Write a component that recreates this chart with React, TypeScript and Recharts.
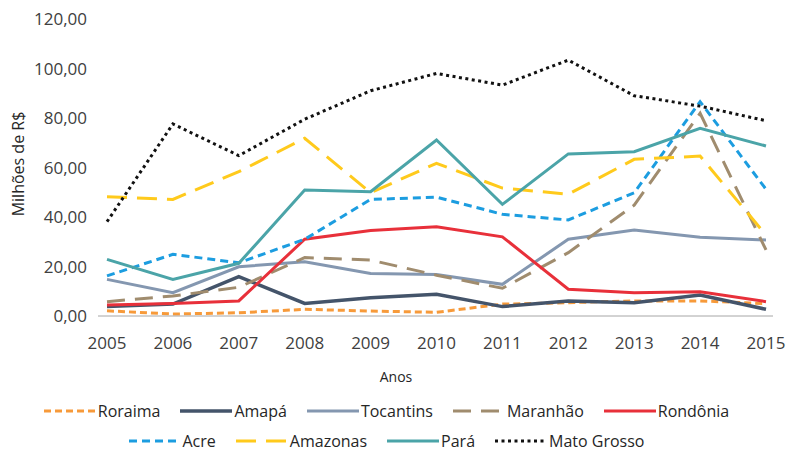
import React from 'react';
import { LineChart, Line, XAxis, YAxis, Legend } from 'recharts';

const years = [2005, 2006, 2007, 2008, 2009, 2010, 2011, 2012, 2013, 2014, 2015];

const roraima = [2.1, 0.8, 1.3, 2.7, 2.0, 1.5, 4.8, 5.4, 6.1, 6.1, 5.0];
const amapa = [3.8, 4.8, 15.9, 5.1, 7.4, 8.8, 3.8, 6.1, 5.4, 8.5, 2.7];
const tocantins = [14.8, 9.4, 19.9, 21.9, 17.2, 16.8, 12.8, 31.0, 34.7, 31.8, 30.7];
const maranhao = [5.8, 8.1, 11.6, 23.6, 22.6, 16.5, 11.2, 25.6, 44.8, 81.9, 26.7];
const rondonia = [4.4, 5.1, 6.1, 31.0, 34.5, 36.1, 32.0, 10.8, 9.4, 9.8, 5.8];
const acre = [16.2, 24.9, 21.5, 31.0, 47.1, 48.0, 41.1, 38.8, 49.8, 86.6, 51.2];
const amazonas = [48.2, 47.1, 58.3, 71.8, 49.8, 61.7, 51.7, 49.2, 63.3, 64.6, 32.7];
const para = [22.9, 14.8, 21.3, 50.9, 50.2, 71.1, 45.1, 65.5, 66.4, 75.8, 68.7];
const matoGrosso = [38.1, 77.6, 64.8, 79.5, 91.0, 98.0, 93.3, 103.4, 89.0, 84.8, 78.9];

const yTicks = [0, 20, 40, 60, 80, 100, 120];

const series = [
  { key: 'roraima', name: 'Roraima', values: roraima, color: '#F79A3A', dash: '7 4', width: 3 },
  { key: 'amapa', name: 'Amapá', values: amapa, color: '#44546A', dash: undefined, width: 3.5 },
  { key: 'tocantins', name: 'Tocantins', values: tocantins, color: '#8497B0', dash: undefined, width: 3 },
  { key: 'maranhao', name: 'Maranhão', values: maranhao, color: '#A08C6E', dash: '18 10', width: 3 },
  { key: 'rondonia', name: 'Rondônia', values: rondonia, color: '#E8303A', dash: undefined, width: 3 },
  { key: 'acre', name: 'Acre', values: acre, color: '#1C9DE0', dash: '8 5', width: 3 },
  { key: 'amazonas', name: 'Amazonas', values: amazonas, color: '#FFCA1C', dash: '20 10', width: 3 },
  { key: 'para', name: 'Pará', values: para, color: '#4BA4A8', dash: undefined, width: 3 },
  { key: 'matoGrosso', name: 'Mato Grosso', values: matoGrosso, color: '#111111', dash: '3 3.5', width: 3 },
];

const data = years.map((year, i) => {
  const row: Record<string, number> = { year };
  series.forEach((s) => {
    row[s.key] = s.values[i];
  });
  return row;
});

const FONT = '"Open Sans", sans-serif';

const fmt = (v: number) => v.toFixed(2).replace('.', ',');

const LegendRows = () => {
  const rows = [series.slice(0, 5), series.slice(5)];
  return (
    <div style={{ paddingTop: 16, fontFamily: FONT, fontSize: 16, color: '#262626' }}>
      {rows.map((row, r) => (
        <div
          key={r}
          style={{
            display: 'flex',
            justifyContent: 'center',
            height: 18,
            alignItems: 'center',
            marginTop: r === 0 ? 0 : 12,
          }}
        >
          {row.map((s) => (
            <div key={s.key} style={{ display: 'flex', alignItems: 'center', margin: '0 10px' }}>
              <svg width={52} height={10} style={{ marginRight: 2 }}>
                <line
                  x1={0}
                  y1={5}
                  x2={52}
                  y2={5}
                  stroke={s.color}
                  strokeWidth={s.width}
                  strokeDasharray={s.dash}
                />
              </svg>
              <span style={{ lineHeight: '18px' }}>{s.name}</span>
            </div>
          ))}
        </div>
      ))}
    </div>
  );
};

export default function App() {
  return (
    <div style={{ position: 'absolute', left: 0, top: 0, width: 786, height: 453, background: '#fff' }}>
      <LineChart
        width={786}
        height={453}
        data={data}
        margin={{ top: 19, right: 13, bottom: 0, left: 0 }}
      >
        <XAxis
          dataKey="year"
          type="category"
          height={70}
          padding={{ left: 9, right: 7 }}
          axisLine={{ stroke: '#A6A6A6', strokeWidth: 1 }}
          tickLine={false}
          tickSize={0}
          tickMargin={21}
          tick={{ fontFamily: FONT, fontSize: 17, fill: '#404040' }}
          interval={0}
          label={{
            content: () => (
              <text
                x={396}
                y={376}
                textAnchor="middle"
                dominantBaseline="central"
                fontFamily={FONT}
                fontSize={14}
                fill="#262626"
              >
                Anos
              </text>
            ),
          }}
        />
        <YAxis
          width={98}
          domain={[0, 120]}
          ticks={yTicks}
          tickFormatter={fmt}
          axisLine={false}
          tickLine={false}
          tickSize={0}
          tickMargin={11}
          tick={{ fontFamily: FONT, fontSize: 17, fill: '#404040' }}
          label={{
            content: () => (
              <text
                x={18}
                y={164}
                transform="rotate(-90, 18, 164)"
                textAnchor="middle"
                dominantBaseline="central"
                fontFamily={FONT}
                fontSize={16}
                fill="#262626"
              >
                Milhões de R$
              </text>
            ),
          }}
        />
        <Legend verticalAlign="bottom" height={67} content={() => <LegendRows />} />
        {series.map((s) => (
          <Line
            key={s.key}
            type="linear"
            dataKey={s.key}
            name={s.name}
            stroke={s.color}
            strokeWidth={s.width}
            strokeDasharray={s.dash}
            dot={false}
            activeDot={false}
            isAnimationActive={false}
          />
        ))}
      </LineChart>
    </div>
  );
}
